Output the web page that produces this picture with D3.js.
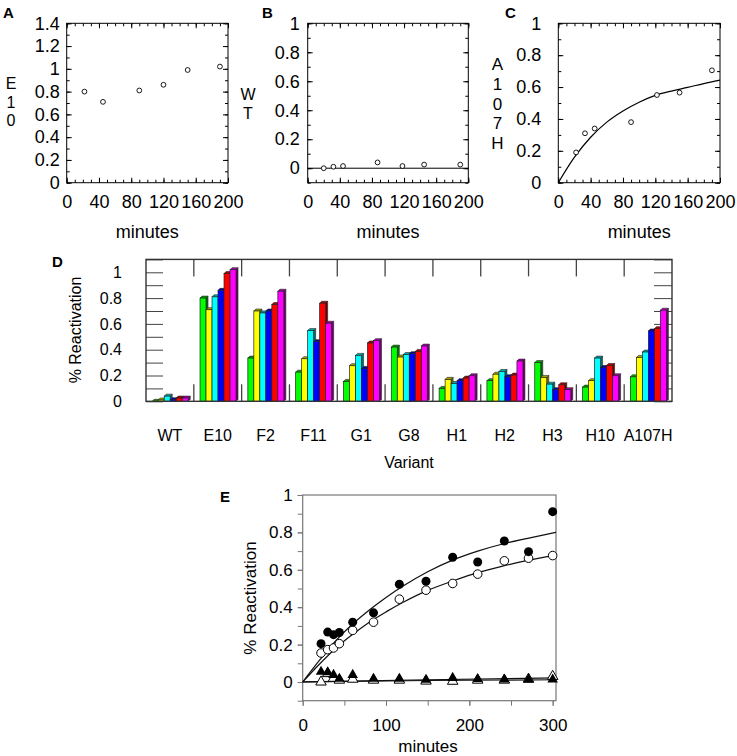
<!DOCTYPE html>
<html>
<head>
<meta charset="utf-8">
<script src="https://cdn.jsdelivr.net/npm/d3@7"></script>
<style>
  body { margin: 0; background: #fff; }
  svg { display: block; font-family: "Liberation Sans", Arial, sans-serif; }
</style>
</head>
<body>
<svg width="737" height="756"></svg>
<script>
// ---- panel A : E10 ----
var minutesA = [22, 45, 90, 120, 150, 190];
var e10Values = [0.80, 0.71, 0.81, 0.86, 0.99, 1.02];

// ---- panel B : WT ----
var minutesB = [20, 32, 44, 87, 118, 145, 190];
var wtValues = [0.0, 0.01, 0.015, 0.04, 0.015, 0.025, 0.025];

// ---- panel C : A107H, points and fitted curve ----
var minutesC = [22, 33, 45, 90, 122, 150, 190];
var a107hValues = [0.19, 0.31, 0.34, 0.38, 0.55, 0.565, 0.705];
var a107hFitMinutes = [0, 20, 40, 60, 80, 100, 120, 140, 160, 180, 200];
var a107hFitValues = [0, 0.16, 0.285, 0.38, 0.45, 0.505, 0.548, 0.575, 0.598, 0.622, 0.643];

// ---- panel D : reactivation per variant, six time points ----
var variants = ["WT", "E10", "F2", "F11", "G1", "G8", "H1", "H2", "H3", "H10", "A107H"];
var barValues = [
  [0.0, 0.01, 0.04, 0.012, 0.025, 0.025],
  [0.80, 0.71, 0.81, 0.86, 0.99, 1.02],
  [0.335, 0.70, 0.685, 0.70, 0.75, 0.853],
  [0.226, 0.33, 0.548, 0.462, 0.76, 0.605],
  [0.154, 0.276, 0.356, 0.255, 0.452, 0.47],
  [0.42, 0.343, 0.363, 0.369, 0.387, 0.428],
  [0.10, 0.17, 0.138, 0.16, 0.18, 0.198],
  [0.16, 0.21, 0.231, 0.19, 0.203, 0.312],
  [0.30, 0.185, 0.133, 0.09, 0.128, 0.09],
  [0.11, 0.16, 0.335, 0.262, 0.278, 0.198],
  [0.19, 0.34, 0.382, 0.545, 0.563, 0.706]
];
var barColors = ["#00ff00", "#ffff00", "#00ffff", "#0000ff", "#ff0000", "#ff00ff"];

// ---- panel E : four series over 300 minutes ----
var minutesE = [22, 30, 37, 44, 60, 85, 116, 148, 180, 210, 242, 271, 300];
var filledCircles = [0.205, 0.267, 0.253, 0.265, 0.32, 0.37, 0.523, 0.539, 0.667, 0.642, 0.754, 0.697, 0.911];
var openCircles = [0.155, 0.173, 0.182, 0.205, 0.276, 0.32, 0.443, 0.491, 0.527, 0.577, 0.648, 0.662, 0.676];
var filledTriangles = [0.055, 0.052, 0.038, 0.017, 0.038, 0.017, 0.017, 0.012, 0.022, 0.016, 0.013, 0.013, 0.013];
var openTriangles = [0.0, 0.045, 0.02, 0.01, 0.015, 0.01, 0.01, 0.005, 0.004, 0.01, 0.01, 0.015, 0.03];
var fitMinutesE = [0, 20, 40, 60, 80, 100, 120, 150, 180, 210, 240, 270, 304];
var filledCircleFit = [0, 0.115, 0.222, 0.31, 0.385, 0.452, 0.512, 0.59, 0.652, 0.70, 0.738, 0.768, 0.80];
var openCircleFit = [0, 0.095, 0.182, 0.255, 0.32, 0.375, 0.425, 0.49, 0.54, 0.585, 0.62, 0.65, 0.68];
var triFitMinutes = [0, 150, 304];
var filledTriangleFit = [0, 0.008, 0.012];
var openTriangleFit = [0, 0.012, 0.022];

var svg = d3.select("svg");
var fmt = d3.format("~g");

function tidy(sel, size, color) {
    sel.attr("font-size", size).attr("font-family", null);
    sel.select(".domain").remove();
    sel.selectAll(".tick line").attr("stroke", color || "#000");
    sel.selectAll(".tick text").attr("fill", "#000");
}

// one letter per line, used for the vertical y titles of A, B, C
function stacked(txt, x, y0, step, size) {
    txt.split("").forEach(function (c, i) {
        svg.append("text")
            .attr("x", x).attr("y", y0 + i * step)
            .attr("text-anchor", "middle")
            .attr("font-size", size)
            .text(c);
    });
}

// small scatter panels A, B, C
function smallPanel(p) {
    var g = svg.append("g");
    var x = d3.scaleLinear().domain([0, 200]).range([p.left, p.right]);
    var y = d3.scaleLinear().domain(p.yDomain).range([p.bottom, p.top]);
    var yMinor = d3.range(Math.round(p.yDomain[0] * 10), Math.round(p.yDomain[1] * 10) + 1).map(function (d) { return d / 10; });
    var xMinor = d3.range(0, 201, 10);
    var xMajor = [0, 40, 80, 120, 160, 200];

    // minor ticks on all four sides
    [[d3.axisLeft(y).tickValues(yMinor), "translate(" + p.left + ",0)"],
     [d3.axisRight(y).tickValues(yMinor), "translate(" + p.right + ",0)"],
     [d3.axisTop(x).tickValues(xMinor), "translate(0," + p.top + ")"],
     [d3.axisBottom(x).tickValues(xMinor), "translate(0," + p.bottom + ")"]].forEach(function (a) {
        g.append("g").attr("transform", a[1])
            .call(a[0].tickSize(-3).tickFormat(""))
            .call(tidy, 10);
    });

    g.append("g").attr("transform", "translate(" + p.left + ",0)")
        .call(d3.axisLeft(y).tickValues(p.yMajor).tickSize(-5).tickPadding(p.gap).tickFormat(fmt))
        .call(tidy, 18);
    g.append("g").attr("transform", "translate(" + p.right + ",0)")
        .call(d3.axisRight(y).tickValues(p.yMajor).tickSize(-5).tickFormat(""))
        .call(tidy, 18);
    g.append("g").attr("transform", "translate(0," + p.bottom + ")")
        .call(d3.axisBottom(x).tickValues(xMajor).tickSize(-5).tickPadding(13).tickFormat(fmt))
        .call(tidy, 18);
    g.append("g").attr("transform", "translate(0," + p.top + ")")
        .call(d3.axisTop(x).tickValues(xMajor).tickSize(-5).tickFormat(""))
        .call(tidy, 18);

    g.append("rect")
        .attr("x", p.left).attr("y", p.top)
        .attr("width", p.right - p.left).attr("height", p.bottom - p.top)
        .attr("fill", "none").attr("stroke", "#000").attr("stroke-width", 1);

    if (p.zeroLine) {
        g.append("line")
            .attr("x1", p.left).attr("x2", p.right)
            .attr("y1", y(0)).attr("y2", y(0))
            .attr("stroke", "#000").attr("stroke-width", 1);
    }
    if (p.fitX) {
        var line = d3.line()
            .x(function (d, i) { return x(p.fitX[i]); })
            .y(function (d) { return y(d); })
            .curve(d3.curveMonotoneX);
        g.append("path").datum(p.fitY)
            .attr("fill", "none").attr("stroke", "#000").attr("stroke-width", 1.2)
            .attr("d", line);
    }

    g.selectAll("circle.pt").data(p.values).enter().append("circle")
        .attr("class", "pt")
        .attr("cx", function (d, i) { return x(p.minutes[i]); })
        .attr("cy", function (d) { return y(d); })
        .attr("r", 2.4)
        .attr("fill", "#fff").attr("stroke", "#000").attr("stroke-width", 0.9);

    svg.append("text")
        .attr("x", (p.left + p.right) / 2).attr("y", 238)
        .attr("text-anchor", "middle").attr("font-size", 18)
        .text("minutes");

    svg.append("text")
        .attr("x", p.letterX).attr("y", 18)
        .attr("font-size", 15).attr("font-weight", "bold")
        .text(p.letter);
}

smallPanel({ letter: "A", letterX: 3, left: 66.7, right: 228, top: 23.3, bottom: 182.7,
    yDomain: [0, 1.4], yMajor: [0, 0.2, 0.4, 0.6, 0.8, 1, 1.2, 1.4], gap: 7,
    minutes: minutesA, values: e10Values });
smallPanel({ letter: "B", letterX: 262, left: 307.7, right: 468.3, top: 23.3, bottom: 182.7,
    yDomain: [-0.1, 1], yMajor: [0, 0.2, 0.4, 0.6, 0.8, 1], gap: 8, zeroLine: true,
    minutes: minutesB, values: wtValues });
smallPanel({ letter: "C", letterX: 505, left: 558.3, right: 720, top: 23.3, bottom: 182.7,
    yDomain: [0, 1], yMajor: [0, 0.2, 0.4, 0.6, 0.8, 1], gap: 17,
    minutes: minutesC, values: a107hValues, fitX: a107hFitMinutes, fitY: a107hFitValues });

stacked("E10", 11, 89, 18.6, 16);
stacked("WT", 248, 100, 18.6, 16);
stacked("A107H", 497.5, 70, 19.8, 17);

// ---- panel D ----
(function () {
    var left = 146, right = 672, top = 259.4, bottom = 401.3;
    var g = svg.append("g");
    var x = d3.scaleBand().domain(variants).range([left, right]).padding(0);
    var inner = d3.scaleBand().domain(d3.range(6)).range([6.2, 42.2]).padding(0);
    var y = d3.scaleLinear().domain([0, 1.1]).range([bottom, top]);
    var dep = 2;
    var tenths = d3.range(0, 12).map(function (d) { return d / 10; });

    g.append("g").attr("transform", "translate(" + left + ",0)")
        .call(d3.axisLeft(y).tickValues(tenths).tickSize(-17).tickPadding(24)
            .tickFormat(function (d) { return (Math.round(d * 10) % 2 === 0 && d <= 1) ? fmt(d) : ""; }))
        .call(tidy, 16, "#444");
    g.append("g").attr("transform", "translate(" + right + ",0)")
        .call(d3.axisRight(y).tickValues(tenths).tickSize(-18).tickFormat(""))
        .call(tidy, 16, "#444");

    var bounds = variants.slice(1);
    g.selectAll("line.sep-top").data(bounds).enter().append("line")
        .attr("x1", function (d) { return x(d); }).attr("x2", function (d) { return x(d); })
        .attr("y1", top).attr("y2", top + 17)
        .attr("stroke", "#444").attr("stroke-width", 1.3);
    g.selectAll("line.sep-bot").data(bounds).enter().append("line")
        .attr("x1", function (d) { return x(d); }).attr("x2", function (d) { return x(d); })
        .attr("y1", bottom).attr("y2", bottom - 17)
        .attr("stroke", "#444").attr("stroke-width", 1.3);

    var groups = g.selectAll("g.grp").data(variants).enter().append("g")
        .attr("transform", function (d) { return "translate(" + x(d) + ",0)"; });

    groups.each(function (v, gi) {
        var gg = d3.select(this);
        var rows = barValues[gi].map(function (val, j) { return { j: j, val: val }; });
        var w = inner.bandwidth();
        var bar = gg.selectAll("g.bar").data(rows).enter().append("g");
        // right side face
        bar.append("path")
            .attr("d", function (d) {
                var x0 = inner(d.j), y1 = y(d.val);
                return "M" + (x0 + w) + "," + y1 + "L" + (x0 + w + dep) + "," + (y1 - dep) +
                    "L" + (x0 + w + dep) + "," + (bottom - dep) + "L" + (x0 + w) + "," + bottom + "Z";
            })
            .attr("fill", function (d) { return d3.color(barColors[d.j]).darker(2.2); })
            .attr("stroke", "#222").attr("stroke-width", 0.6);
        // top cap
        bar.append("path")
            .attr("d", function (d) {
                var x0 = inner(d.j), y1 = y(d.val);
                return "M" + x0 + "," + y1 + "L" + (x0 + dep) + "," + (y1 - dep) +
                    "L" + (x0 + w + dep) + "," + (y1 - dep) + "L" + (x0 + w) + "," + y1 + "Z";
            })
            .attr("fill", function (d) { return d3.color(barColors[d.j]).darker(1.1); })
            .attr("stroke", "#222").attr("stroke-width", 0.6);
        // front face
        bar.append("rect")
            .attr("x", function (d) { return inner(d.j); })
            .attr("y", function (d) { return y(d.val); })
            .attr("width", w)
            .attr("height", function (d) { return bottom - y(d.val); })
            .attr("fill", function (d) { return barColors[d.j]; })
            .attr("stroke", "#222").attr("stroke-width", 0.7);
    });

    g.append("rect")
        .attr("x", left).attr("y", top).attr("width", right - left).attr("height", bottom - top)
        .attr("fill", "none").attr("stroke", "#333").attr("stroke-width", 1.4);

    g.append("g").attr("transform", "translate(0," + bottom + ")")
        .call(d3.axisBottom(x).tickSize(0).tickPadding(28))
        .call(tidy, 16);

    svg.append("text")
        .attr("transform", "translate(81,330) rotate(-90)")
        .attr("text-anchor", "middle").attr("font-size", 16)
        .text("% Reactivation");
    svg.append("text")
        .attr("x", 409).attr("y", 468)
        .attr("text-anchor", "middle").attr("font-size", 16)
        .text("Variant");
    svg.append("text")
        .attr("x", 52).attr("y", 267)
        .attr("font-size", 15).attr("font-weight", "bold")
        .text("D");
})();

// ---- panel E ----
(function () {
    var left = 302.7, right = 556, top = 495, bottom = 700.7;
    var grey = "#777";
    var g = svg.append("g");
    var x = d3.scaleLinear().domain([0, 304]).range([left, right]);
    var y = d3.scaleLinear().domain([-0.1, 1]).range([bottom, top]);
    var tenths = d3.range(-1, 11).map(function (d) { return d / 10; });

    g.append("g").attr("transform", "translate(" + left + ",0)")
        .call(d3.axisLeft(y).tickValues(tenths).tickSize(5).tickFormat(""))
        .call(tidy, 17, grey);
    g.append("g").attr("transform", "translate(" + left + ",0)")
        .call(d3.axisLeft(y).tickValues([0, 0.2, 0.4, 0.6, 0.8, 1]).tickSize(5).tickPadding(5).tickFormat(fmt))
        .call(tidy, 17, grey);
    g.append("g").attr("transform", "translate(0," + bottom + ")")
        .call(d3.axisBottom(x).tickValues([0, 50, 100, 150, 200, 250, 300]).tickSize(5).tickFormat(""))
        .call(tidy, 17, grey);
    g.append("g").attr("transform", "translate(0," + bottom + ")")
        .call(d3.axisBottom(x).tickValues([0, 100, 200, 300]).tickSize(5).tickPadding(13).tickFormat(fmt))
        .call(tidy, 17, grey);

    g.append("rect")
        .attr("x", left).attr("y", top).attr("width", right - left).attr("height", bottom - top)
        .attr("fill", "none").attr("stroke", grey).attr("stroke-width", 1.2);

    var line = function (xs) {
        return d3.line()
            .x(function (d, i) { return x(xs[i]); })
            .y(function (d) { return y(d); })
            .curve(d3.curveMonotoneX);
    };
    [[fitMinutesE, filledCircleFit], [fitMinutesE, openCircleFit],
     [triFitMinutes, openTriangleFit], [triFitMinutes, filledTriangleFit]].forEach(function (f) {
        g.append("path").datum(f[1])
            .attr("fill", "none").attr("stroke", "#111").attr("stroke-width", 1.2)
            .attr("d", line(f[0]));
    });

    var tri = d3.symbol().type(d3.symbolTriangle).size(48);
    g.selectAll("path.otri").data(openTriangles).enter().append("path")
        .attr("transform", function (d, i) { return "translate(" + x(minutesE[i]) + "," + y(d) + ")"; })
        .attr("d", tri).attr("fill", "#fff").attr("stroke", "#000").attr("stroke-width", 1);
    g.selectAll("path.ftri").data(filledTriangles).enter().append("path")
        .attr("transform", function (d, i) { return "translate(" + x(minutesE[i]) + "," + y(d) + ")"; })
        .attr("d", tri).attr("fill", "#000");
    g.selectAll("circle.oc").data(openCircles).enter().append("circle")
        .attr("cx", function (d, i) { return x(minutesE[i]); })
        .attr("cy", function (d) { return y(d); })
        .attr("r", 4.3).attr("fill", "#fff").attr("stroke", "#000").attr("stroke-width", 1);
    g.selectAll("circle.fc").data(filledCircles).enter().append("circle")
        .attr("cx", function (d, i) { return x(minutesE[i]); })
        .attr("cy", function (d) { return y(d); })
        .attr("r", 4.5).attr("fill", "#000");

    svg.append("text")
        .attr("transform", "translate(256,598) rotate(-90)")
        .attr("text-anchor", "middle").attr("font-size", 17)
        .text("% Reactivation");
    svg.append("text")
        .attr("x", 428).attr("y", 752)
        .attr("text-anchor", "middle").attr("font-size", 17)
        .text("minutes");
    svg.append("text")
        .attr("x", 220).attr("y", 502)
        .attr("font-size", 15).attr("font-weight", "bold")
        .text("E");
})();
</script>
</body>
</html>
